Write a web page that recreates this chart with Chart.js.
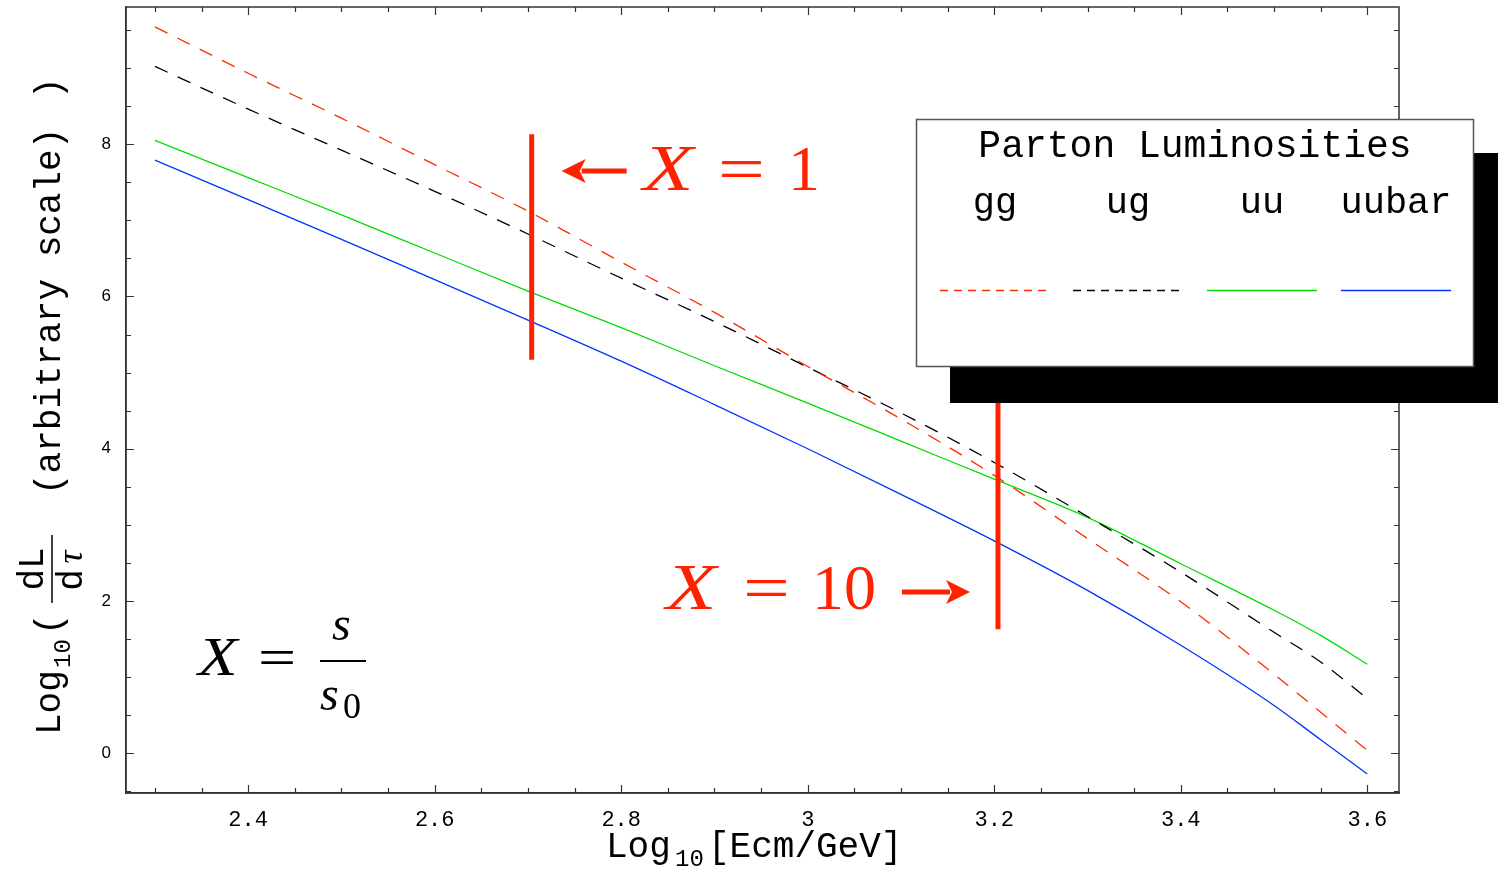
<!DOCTYPE html>
<html>
<head>
<meta charset="utf-8">
<script src="https://cdn.jsdelivr.net/npm/chart.js@4/dist/chart.umd.min.js"></script>
<style>
  body { margin: 0; background: #fff; }
  canvas { display: block; }
</style>
</head>
<body>
<canvas id="lumi" width="1498" height="869"></canvas>
<script>
// log10(Ecm/GeV) sample points
const ecm = [2.3, 2.4, 2.5, 2.6, 2.7, 2.8, 2.9, 3.0, 3.1, 3.2, 3.3, 3.4, 3.5, 3.55, 3.6];
// log10(dL/dtau), arbitrary scale
const gg    = [9.54, 8.93, 8.34, 7.73, 7.12, 6.45, 5.79, 5.08, 4.39, 3.65, 2.82, 1.99, 1.04, 0.54, 0.04];
const ug    = [9.02, 8.46, 7.92, 7.38, 6.82, 6.24, 5.67, 5.07, 4.47, 3.82, 3.11, 2.38, 1.59, 1.20, 0.72];
const uu    = [8.05, 7.56, 7.07, 6.57, 6.07, 5.59, 5.09, 4.60, 4.10, 3.60, 3.10, 2.49, 1.88, 1.55, 1.17];
const uubar = [7.79, 7.27, 6.75, 6.22, 5.69, 5.15, 4.58, 4.00, 3.40, 2.79, 2.14, 1.42, 0.63, 0.18, -0.27];

const seriesNames = ['gg', 'ug', 'uu', 'uubar'];
const xTicks = [2.4, 2.6, 2.8, 3.0, 3.2, 3.4, 3.6];
const yTicks = [0, 2, 4, 6, 8];

// X = s/s0 markers
const x1Pos = 2.704, x1Span = [5.17, 8.13];
const x10Pos = 3.204, x10Span = [1.63, 5.2];

const RED = '#ff2200';
const colors = ['#ff2a00', '#000000', '#00dd00', '#0033ff'];
const dashes = [[14, 11], [14, 11], [], []];
const MONO = '"Liberation Mono", "Courier New", monospace';
const SERIF = '"Liberation Serif", "Times New Roman", serif';

function pts(ys) { return ecm.map((x, i) => ({ x: x, y: ys[i] })); }

const curves = [gg, ug, uu, uubar].map((d, i) => ({
    label: seriesNames[i],
    data: pts(d),
    borderColor: colors[i],
    borderWidth: 1.3,
    borderDash: dashes[i],
    pointRadius: 0,
    cubicInterpolationMode: 'monotone',
    order: 1
}));

const markers = [[x1Pos, x1Span], [x10Pos, x10Span]].map(m => ({
    label: 'marker',
    data: [{ x: m[0], y: m[1][0] }, { x: m[0], y: m[1][1] }],
    borderColor: RED,
    borderWidth: 5,
    borderCapStyle: 'butt',
    pointRadius: 0,
    order: 0
}));

function arrow(ctx, xFrom, xTo, y) {
    const dir = Math.sign(xTo - xFrom);
    ctx.strokeStyle = RED; ctx.fillStyle = RED; ctx.lineWidth = 5;
    ctx.beginPath(); ctx.moveTo(xFrom, y); ctx.lineTo(xTo - dir * 20, y); ctx.stroke();
    ctx.beginPath();
    ctx.moveTo(xTo, y);
    ctx.lineTo(xTo - dir * 24, y - 12);
    ctx.lineTo(xTo - dir * 18, y);
    ctx.lineTo(xTo - dir * 24, y + 12);
    ctx.closePath(); ctx.fill();
}

// text stretched sideways, like the wide math glyphs of the original
function wide(ctx, txt, x, y, font, sx) {
    ctx.save();
    ctx.translate(x, y); ctx.scale(sx, 1);
    ctx.font = font; ctx.fillText(txt, 0, 0);
    ctx.restore();
}

const overlay = {
    id: 'overlay',
    afterDraw(chart) {
        const ctx = chart.ctx;
        const xs = chart.scales.x, ys = chart.scales.y;
        const a = chart.chartArea;
        ctx.save();

        // full frame + inward ticks on all four sides
        ctx.strokeStyle = '#333'; ctx.lineWidth = 1.5;
        ctx.strokeRect(a.left, a.top, a.right - a.left, a.bottom - a.top);
        ctx.lineWidth = 1.2;
        ctx.beginPath();
        for (let k = 46; k <= 72; k++) {
            const px = Math.round(xs.getPixelForValue(k * 0.05)) + 0.5;
            const len = k % 4 === 0 ? 8 : 5;
            ctx.moveTo(px, a.bottom); ctx.lineTo(px, a.bottom - len);
            ctx.moveTo(px, a.top); ctx.lineTo(px, a.top + len);
        }
        for (let k = -1; k <= 19; k++) {
            const py = Math.round(ys.getPixelForValue(k * 0.5)) + 0.5;
            const len = k % 4 === 0 ? 8 : 5;
            ctx.moveTo(a.left, py); ctx.lineTo(a.left + len, py);
            ctx.moveTo(a.right, py); ctx.lineTo(a.right - len, py);
        }
        ctx.stroke();

        // annotations
        const b1 = xs.getPixelForValue(x1Pos), b10 = xs.getPixelForValue(x10Pos);
        arrow(ctx, b1 + 95, b1 + 30, 171);
        ctx.fillStyle = RED; ctx.textBaseline = 'alphabetic'; ctx.textAlign = 'left';
        wide(ctx, 'X', 643, 190, 'italic 66px ' + SERIF, 1.25);
        wide(ctx, '=', 718, 190, '64px ' + SERIF, 1.3);
        ctx.font = '64px ' + SERIF; ctx.fillText('1', 788, 190);
        arrow(ctx, b10 - 96, b10 - 28, 592);
        ctx.fillStyle = RED;
        wide(ctx, 'X', 666, 609, 'italic 66px ' + SERIF, 1.25);
        wide(ctx, '=', 743, 609, '64px ' + SERIF, 1.3);
        ctx.font = '64px ' + SERIF; ctx.fillText('10', 812, 609);

        // X = s / s0
        ctx.fillStyle = '#000';
        wide(ctx, 'X', 198, 675, 'italic 54px ' + SERIF, 1.2);
        wide(ctx, '=', 258, 675, '52px ' + SERIF, 1.3);
        ctx.font = 'italic 48px ' + SERIF; ctx.fillText('s', 332, 640); ctx.fillText('s', 320, 710);
        ctx.font = '36px ' + SERIF; ctx.fillText('0', 343, 718);
        ctx.strokeStyle = '#000'; ctx.lineWidth = 2;
        ctx.beginPath(); ctx.moveTo(320, 661); ctx.lineTo(366, 661); ctx.stroke();

        // legend box with shadow
        ctx.fillStyle = '#000'; ctx.fillRect(950, 153, 560, 250);
        ctx.fillStyle = '#fff'; ctx.fillRect(916, 119, 558, 248);
        ctx.strokeStyle = '#555'; ctx.lineWidth = 1.5; ctx.strokeRect(916.5, 119.5, 557, 247);
        ctx.fillStyle = '#000'; ctx.textAlign = 'center';
        ctx.font = '38px ' + MONO; ctx.fillText('Parton Luminosities', 1195, 157);
        const cx = [995, 1128, 1262, 1396];
        ctx.font = '37px ' + MONO;
        seriesNames.forEach((n, i) => ctx.fillText(n, cx[i], 213));
        ctx.lineWidth = 1.3;
        cx.forEach((c, i) => {
            ctx.strokeStyle = colors[i];
            ctx.setLineDash(i < 2 ? [8, 6] : []);
            ctx.beginPath(); ctx.moveTo(c - 55, 290.5); ctx.lineTo(c + 55, 290.5); ctx.stroke();
        });
        ctx.setLineDash([]);

        // x axis title
        ctx.textAlign = 'left'; ctx.fillStyle = '#000';
        ctx.font = '36px ' + MONO; ctx.fillText('Log', 606, 857);
        ctx.font = '24px ' + MONO; ctx.fillText('10', 675, 866);
        ctx.font = '36px ' + MONO; ctx.fillText('[Ecm/GeV]', 708, 857);

        // y axis title, rotated
        ctx.translate(60, 735); ctx.rotate(-Math.PI / 2);
        ctx.font = '36px ' + MONO; ctx.fillText('Log', 0, 0);
        ctx.font = '24px ' + MONO; ctx.fillText('10', 67, 10);
        ctx.font = '36px ' + MONO; ctx.fillText('(', 100, 0);
        ctx.lineWidth = 1.5; ctx.strokeStyle = '#000';
        ctx.beginPath(); ctx.moveTo(132, -8); ctx.lineTo(200, -8); ctx.stroke();
        ctx.textAlign = 'center';
        ctx.font = '36px ' + MONO; ctx.fillText('dL', 166, -17);
        ctx.font = '36px ' + MONO; ctx.fillText('d', 155, 22);
        ctx.font = 'italic 36px ' + SERIF; ctx.fillText('\u03c4', 178, 22);
        ctx.textAlign = 'left';
        ctx.font = '36px ' + MONO; ctx.fillText('(arbitrary scale)', 240, 0);
        ctx.fillText(')', 636, 0);

        ctx.restore();
    }
};

new Chart(document.getElementById('lumi'), {
    type: 'line',
    data: { datasets: markers.concat(curves) },
    options: {
        responsive: false,
        animation: false,
        layout: { padding: { left: 0, top: 7, right: 99, bottom: 0 } },
        plugins: { legend: { display: false }, tooltip: { enabled: false } },
        scales: {
            x: {
                type: 'linear', min: 2.269, max: 3.634,
                afterBuildTicks: s => { s.ticks = xTicks.map(v => ({ value: v })); },
                afterFit: s => { s.height = 76; s.paddingLeft = 0; s.paddingRight = 0; },
                grid: { display: false, drawTicks: false },
                border: { display: true, color: '#333', width: 1.5 },
                ticks: {
                    padding: 14, color: '#000',
                    font: { family: MONO, size: 22 },
                    callback: v => String(v)
                }
            },
            y: {
                type: 'linear', min: -0.52, max: 9.8,
                afterBuildTicks: s => { s.ticks = yTicks.map(v => ({ value: v })); },
                afterFit: s => { s.width = 126; s.paddingTop = 0; s.paddingBottom = 0; },
                grid: { display: false, drawTicks: false },
                border: { display: true, color: '#333', width: 1.5 },
                ticks: {
                    padding: 15, color: '#000',
                    font: { family: '"Liberation Sans", Arial, sans-serif', size: 17 }
                }
            }
        }
    },
    plugins: [overlay]
});
</script>
</body>
</html>
